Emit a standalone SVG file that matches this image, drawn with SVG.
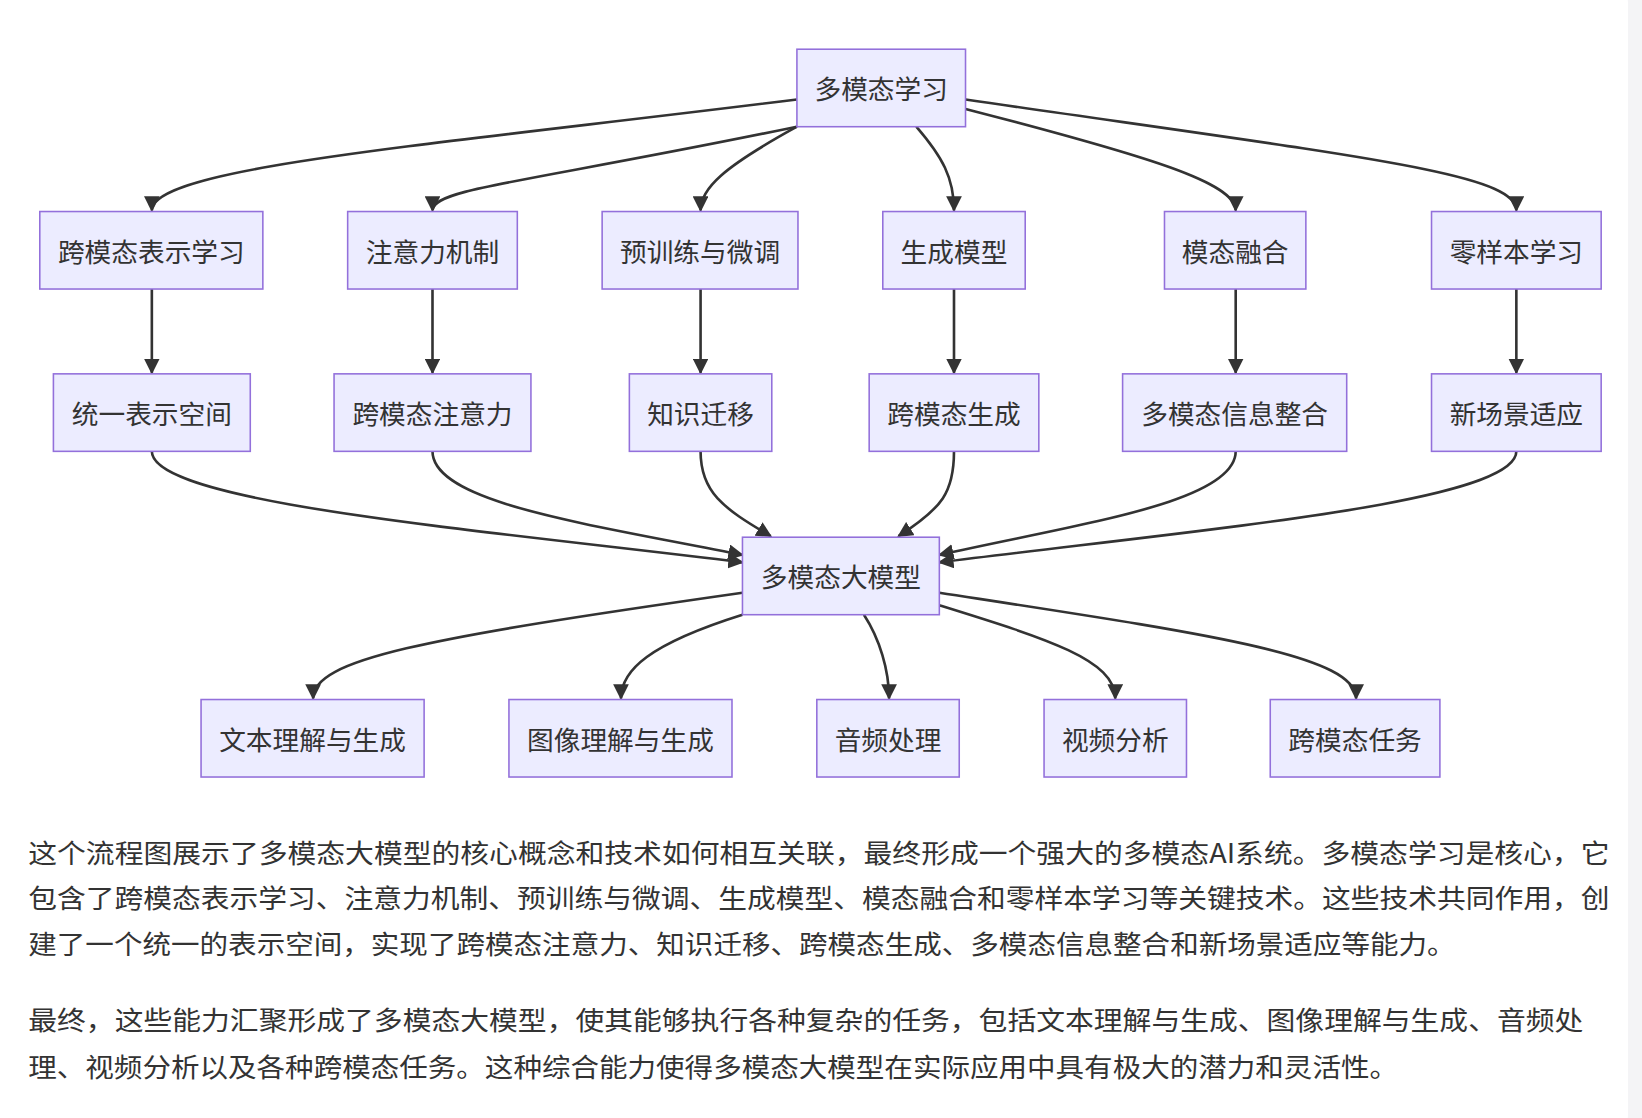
<svg xmlns="http://www.w3.org/2000/svg" width="1642" height="1118" viewBox="0 0 1642 1118">
<defs>
<style>
.n rect{fill:#ECECFF;stroke:#9370DB;stroke-width:1.5}
.n text{font-family:"Noto Sans CJK SC","Noto Sans",sans-serif;font-size:25.5px;fill:#333;text-anchor:middle;dominant-baseline:central}
.e path{fill:none;stroke:#333;stroke-width:2.5}
.p{font-family:"Noto Sans CJK SC","Noto Sans",sans-serif;font-size:25.5px;fill:#333}
</style>
<marker id="a" viewBox="0 0 10 10" refX="9" refY="5" markerWidth="15" markerHeight="15" markerUnits="userSpaceOnUse" orient="auto"><path d="M0,0 L10,5 L0,10 z" fill="#333"/></marker>
</defs>
<rect width="1642" height="1118" fill="#f4f4f6"/>
<rect x="-30" y="-30" width="1658" height="1178" rx="34" fill="#fff"/>
<g transform="scale(1.0472)">
<g class="e">
<path d="M761,95 C400,140 145,160 145,201" marker-end="url(#a)"/>
<path d="M761,121 C500,175 413,180 413,201" marker-end="url(#a)"/>
<path d="M761,121 C690,160 669,180 669,201" marker-end="url(#a)"/>
<path d="M875,121 C900,150 911,170 911,201" marker-end="url(#a)"/>
<path d="M922,104 C1100,150 1180,175 1180,201" marker-end="url(#a)"/>
<path d="M922,95 C1300,150 1448,165 1448,201" marker-end="url(#a)"/>
<path d="M145,276 L145,356" marker-end="url(#a)"/>
<path d="M413,276 L413,356" marker-end="url(#a)"/>
<path d="M669,276 L669,356" marker-end="url(#a)"/>
<path d="M911,276 L911,356" marker-end="url(#a)"/>
<path d="M1180,276 L1180,356" marker-end="url(#a)"/>
<path d="M1448,276 L1448,356" marker-end="url(#a)"/>
<path d="M145,431 C145,480 450,505 709,537" marker-end="url(#a)"/>
<path d="M413,431 C413,480 560,500 709,530" marker-end="url(#a)"/>
<path d="M669,431 C669,470 690,485 736,512" marker-end="url(#a)"/>
<path d="M911,431 C911,470 900,485 858,512" marker-end="url(#a)"/>
<path d="M1180,431 C1180,480 1030,500 897,530" marker-end="url(#a)"/>
<path d="M1448,431 C1448,480 1150,505 897,537" marker-end="url(#a)"/>
<path d="M709,566 C400,610 299,630 299,667" marker-end="url(#a)"/>
<path d="M709,587 C620,615 593,640 593,667" marker-end="url(#a)"/>
<path d="M825,587 C840,610 849,640 849,667" marker-end="url(#a)"/>
<path d="M897,578 C1000,610 1065,630 1065,667" marker-end="url(#a)"/>
<path d="M897,566 C1150,605 1295,625 1295,667" marker-end="url(#a)"/>
</g>
<g id="n0" class="n"><rect x="761" y="47" width="161" height="74"/><text x="841.5" y="84">多模态学习</text></g>
<g id="n1" class="n"><rect x="38" y="202" width="213" height="74"/><text x="144.5" y="239">跨模态表示学习</text></g>
<g id="n2" class="n"><rect x="332" y="202" width="162" height="74"/><text x="413" y="239">注意力机制</text></g>
<g id="n3" class="n"><rect x="575" y="202" width="187" height="74"/><text x="668.5" y="239">预训练与微调</text></g>
<g id="n4" class="n"><rect x="843" y="202" width="136" height="74"/><text x="911" y="239">生成模型</text></g>
<g id="n5" class="n"><rect x="1112" y="202" width="135" height="74"/><text x="1179.5" y="239">模态融合</text></g>
<g id="n6" class="n"><rect x="1367" y="202" width="162" height="74"/><text x="1448" y="239">零样本学习</text></g>
<g id="n7" class="n"><rect x="51" y="357" width="188" height="74"/><text x="145" y="394">统一表示空间</text></g>
<g id="n8" class="n"><rect x="319" y="357" width="188" height="74"/><text x="413" y="394">跨模态注意力</text></g>
<g id="n9" class="n"><rect x="601" y="357" width="136" height="74"/><text x="669" y="394">知识迁移</text></g>
<g id="n10" class="n"><rect x="830" y="357" width="162" height="74"/><text x="911" y="394">跨模态生成</text></g>
<g id="n11" class="n"><rect x="1072" y="357" width="214" height="74"/><text x="1179" y="394">多模态信息整合</text></g>
<g id="n12" class="n"><rect x="1367" y="357" width="162" height="74"/><text x="1448" y="394">新场景适应</text></g>
<g id="n13" class="n"><rect x="709" y="513" width="188" height="74"/><text x="803" y="550">多模态大模型</text></g>
<g id="n14" class="n"><rect x="192" y="668" width="213" height="74"/><text x="298.5" y="705">文本理解与生成</text></g>
<g id="n15" class="n"><rect x="486" y="668" width="213" height="74"/><text x="592.5" y="705">图像理解与生成</text></g>
<g id="n16" class="n"><rect x="780" y="668" width="136" height="74"/><text x="848" y="705">音频处理</text></g>
<g id="n17" class="n"><rect x="997" y="668" width="136" height="74"/><text x="1065" y="705">视频分析</text></g>
<g id="n18" class="n"><rect x="1213" y="668" width="162" height="74"/><text x="1294" y="705">跨模态任务</text></g>
<text class="p" x="27" y="824" textLength="1510" lengthAdjust="spacingAndGlyphs">这个流程图展示了多模态大模型的核心概念和技术如何相互关联，最终形成一个强大的多模态AI系统。多模态学习是核心，它</text>
<text class="p" x="27" y="867" textLength="1510" lengthAdjust="spacingAndGlyphs">包含了跨模态表示学习、注意力机制、预训练与微调、生成模型、模态融合和零样本学习等关键技术。这些技术共同作用，创</text>
<text class="p" x="27" y="911" textLength="1363" lengthAdjust="spacingAndGlyphs">建了一个统一的表示空间，实现了跨模态注意力、知识迁移、跨模态生成、多模态信息整合和新场景适应等能力。</text>
<text class="p" x="27" y="984" textLength="1485" lengthAdjust="spacingAndGlyphs">最终，这些能力汇聚形成了多模态大模型，使其能够执行各种复杂的任务，包括文本理解与生成、图像理解与生成、音频处</text>
<text class="p" x="27" y="1028" textLength="1308" lengthAdjust="spacingAndGlyphs">理、视频分析以及各种跨模态任务。这种综合能力使得多模态大模型在实际应用中具有极大的潜力和灵活性。</text>
</g>
</svg>
